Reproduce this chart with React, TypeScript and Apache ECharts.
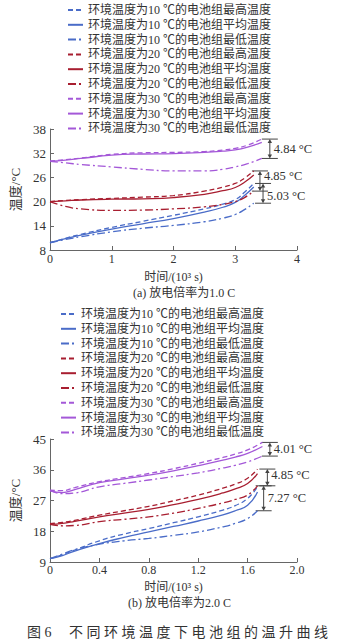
import React, { useEffect, useRef } from 'react';
import * as echarts from 'echarts';

const FONT = '"Liberation Serif", "Noto Sans CJK SC", serif';
const BLUE = '#4a6cc8';
const RED = '#a81e30';
const PURPLE = '#a458d8';

const legendNames = [
  '环境温度为10 ℃的电池组最高温度',
  '环境温度为10 ℃的电池组平均温度',
  '环境温度为10 ℃的电池组最低温度',
  '环境温度为20 ℃的电池组最高温度',
  '环境温度为20 ℃的电池组平均温度',
  '环境温度为20 ℃的电池组最低温度',
  '环境温度为30 ℃的电池组最高温度',
  '环境温度为30 ℃的电池组平均温度',
  '环境温度为30 ℃的电池组最低温度',
];

// (a) 1.0 C
const timeA = [0, 0.25, 0.5, 1, 1.5, 2, 2.5, 2.8, 3.0, 3.15, 3.3];
const timeA30 = [0, 0.25, 0.5, 1, 1.5, 2, 2.5, 2.8, 3.0, 3.2, 3.43];
const a10Max = [9.8, 10.9, 11.9, 13.6, 15.1, 16.6, 18.2, 19.4, 20.5, 22.3, 24.5];
const a10Avg = [9.8, 10.8, 11.7, 13.2, 14.5, 15.8, 17.4, 18.6, 19.8, 21.5, 23.6];
const a10Min = [9.8, 10.6, 11.3, 12.5, 13.4, 14.1, 15.0, 15.9, 16.8, 18.0, 19.6];
const a20Max = [20, 20.3, 20.5, 20.8, 21.1, 21.5, 22.6, 23.6, 24.5, 25.8, 27.6];
const a20Avg = [20, 20.2, 20.4, 20.6, 20.7, 21.0, 21.8, 22.7, 23.5, 24.8, 26.6];
const a20Min = [20, 18.8, 18.2, 17.8, 17.9, 18.2, 18.7, 19.3, 20.0, 21.0, 22.6];
const a30Max = [30, 30.4, 30.8, 31.7, 32.1, 32.2, 32.4, 32.8, 33.2, 34.0, 35.5];
const a30Avg = [30, 30.3, 30.7, 31.5, 31.8, 31.9, 32.2, 32.5, 32.8, 33.5, 34.7];
const a30Min = [30, 29.6, 29.2, 28.6, 28.0, 27.6, 27.6, 28.0, 28.6, 29.4, 30.7];

// (b) 2.0 C
const timeB = [0, 0.1, 0.2, 0.4, 0.6, 0.8, 1.0, 1.2, 1.4, 1.5, 1.6, 1.68];
const timeB30 = [0, 0.1, 0.2, 0.4, 0.6, 0.8, 1.0, 1.2, 1.4, 1.5, 1.6, 1.72];
const b10Max = [10, 11.1, 12.5, 15.2, 17.2, 18.8, 20.5, 22.2, 24.2, 25.5, 27.6, 31.0];
const b10Avg = [10, 10.9, 12.2, 14.4, 16.2, 17.8, 19.4, 21.0, 22.8, 24.0, 25.6, 29.5];
const b10Min = [10, 11.3, 12.6, 14.2, 15.2, 15.9, 16.8, 17.8, 19.3, 20.3, 21.7, 24.0];
const b20Max = [20.2, 20.6, 21.2, 22.7, 24.0, 25.3, 26.9, 28.6, 30.6, 31.8, 33.5, 36.2];
const b20Avg = [20.0, 20.3, 20.9, 22.2, 23.3, 24.4, 25.8, 27.3, 29.2, 30.4, 32.0, 34.9];
const b20Min = [20.0, 19.6, 19.7, 20.8, 21.5, 22.2, 23.3, 24.7, 26.3, 27.3, 28.6, 31.3];
const b30Max = [30.0, 29.9, 30.8, 32.5, 33.7, 34.9, 36.3, 37.9, 39.6, 40.6, 41.8, 44.0];
const b30Avg = [29.8, 29.3, 30.2, 32.2, 33.3, 34.4, 35.7, 37.2, 38.8, 39.7, 40.8, 42.8];
const b30Min = [30.0, 29.0, 29.2, 31.0, 32.0, 33.0, 34.0, 35.1, 36.5, 37.3, 38.3, 40.0];

// brackets: [x, top, bottom]
const bracketA = [
  [3.56, 35.5, 30.7],
  [3.40, 27.6, 22.6],
  [3.45, 24.5, 19.6],
];
const bracketALabels = ['4.84 °C', '4.85 °C', '5.03 °C'];
const bracketB = [
  [1.78, 44.0, 40.0],
  [1.76, 36.2, 31.3],
  [1.73, 31.3, 24.0],
];
const bracketBLabels = ['4.01 °C', '4.85 °C', '7.27 °C'];

// label vertical nudges (pixels) so neighbouring bracket texts do not collide
const labelNudgeA = [0, -5, 3];
const labelNudgeB = [0, -2, 0];

const DASH = [5, 3];
const DASHDOT = [8, 3, 2, 3];

function zip(t: number[], v: number[]) {
  return t.map((x, i) => [x, v[i]]);
}

function lineSeries(name: string, color: string, type: any, t: number[], v: number[], idx: number) {
  return {
    type: 'line',
    name,
    xAxisIndex: idx,
    yAxisIndex: idx,
    data: zip(t, v),
    smooth: true,
    symbol: 'none',
    lineStyle: { color, width: 1.3, type },
    itemStyle: { color },
  };
}

function bracketSeries(data: number[][], labels: string[], nudge: number[], idx: number) {
  return {
    type: 'custom',
    xAxisIndex: idx,
    yAxisIndex: idx,
    clip: false,
    silent: true,
    encode: { x: 0, y: [1, 2] },
    data,
    renderItem: (params: any, api: any) => {
      const x = api.value(0);
      const pT = api.coord([x, api.value(1)]);
      const pB = api.coord([x, api.value(2)]);
      const cx = pT[0];
      const st = { stroke: '#444', lineWidth: 1 };
      const ah = 4;
      const aw = 2.2;
      return {
        type: 'group',
        children: [
          { type: 'line', shape: { x1: cx - 8, y1: pT[1], x2: cx + 8, y2: pT[1] }, style: st },
          { type: 'line', shape: { x1: cx - 8, y1: pB[1], x2: cx + 8, y2: pB[1] }, style: st },
          { type: 'line', shape: { x1: cx, y1: pT[1] + 2, x2: cx, y2: pB[1] - 2 }, style: st },
          { type: 'polygon', shape: { points: [[cx, pT[1]], [cx - aw, pT[1] + ah], [cx + aw, pT[1] + ah]] }, style: { fill: '#444' } },
          { type: 'polygon', shape: { points: [[cx, pB[1]], [cx - aw, pB[1] - ah], [cx + aw, pB[1] - ah]] }, style: { fill: '#444' } },
          {
            type: 'text',
            x: cx + 4,
            y: (pT[1] + pB[1]) / 2 + nudge[params.dataIndex],
            style: {
              text: labels[params.dataIndex],
              fill: '#333',
              font: '12.5px ' + FONT,
              verticalAlign: 'middle',
              align: 'left',
            },
          },
        ],
      };
    },
  };
}

const axisCommon = {
  axisLine: { show: true, lineStyle: { color: '#666', width: 1 } },
  axisTick: { show: true, inside: true, length: 4, lineStyle: { color: '#666' } },
  splitLine: { show: false },
};

function legendCfg(top: number, left: number) {
  return {
    orient: 'vertical',
    top,
    left,
    itemWidth: 15,
    itemHeight: 10,
    itemGap: 2.8,
    padding: 0,
    data: legendNames,
    itemStyle: { opacity: 0 },
    textStyle: { fontSize: 12, fontFamily: FONT, color: '#333', lineHeight: 12 },
    selectedMode: false,
  };
}

export default function App() {
  const ref = useRef<HTMLDivElement>(null);
  useEffect(() => {
    if (!ref.current) return;
    const chart = echarts.init(ref.current, undefined, { renderer: 'svg' });
    const xName = '时间/(10³ s)';
    const xNameStyle = { fontSize: 12, fontFamily: FONT, color: '#333', lineHeight: 12 };
    const yNameStyle = { fontSize: 13, fontFamily: FONT, color: '#333' };
    const option: any = {
      animation: false,
      backgroundColor: '#fff',
      legend: [legendCfg(4, 67), legendCfg(308, 60)],
      grid: [
        { left: 50, top: 129, width: 247, height: 121 },
        { left: 50, top: 439, width: 247, height: 123 },
      ],
      xAxis: [
        {
          ...axisCommon,
          gridIndex: 0,
          type: 'value',
          min: 0,
          max: 4,
          interval: 1,
          name: xName,
          nameLocation: 'middle',
          nameGap: 21,
          nameTextStyle: xNameStyle,
          axisLabel: { fontSize: 12, fontFamily: FONT, color: '#333', margin: 3 },
        },
        {
          ...axisCommon,
          gridIndex: 1,
          type: 'value',
          min: 0,
          max: 2.0,
          interval: 0.4,
          name: xName,
          nameLocation: 'middle',
          nameGap: 19,
          nameTextStyle: xNameStyle,
          axisLabel: {
            fontSize: 12,
            fontFamily: FONT,
            color: '#333',
            margin: 2,
            formatter: (v: number) => (v === 0 ? '0' : v.toFixed(1)),
          },
        },
      ],
      yAxis: [
        {
          ...axisCommon,
          gridIndex: 0,
          type: 'value',
          min: 8,
          max: 38,
          interval: 6,
          name: '温度/°C',
          nameLocation: 'middle',
          nameGap: 21,
          nameTextStyle: yNameStyle,
          axisLabel: { fontSize: 13, fontFamily: FONT, color: '#333', margin: 4 },
        },
        {
          ...axisCommon,
          gridIndex: 1,
          type: 'value',
          min: 9,
          max: 45,
          interval: 9,
          name: '温度/°C',
          nameLocation: 'middle',
          nameGap: 21,
          nameTextStyle: yNameStyle,
          axisLabel: { fontSize: 13, fontFamily: FONT, color: '#333', margin: 4 },
        },
      ],
      series: [
        lineSeries(legendNames[0], BLUE, DASH, timeA, a10Max, 0),
        lineSeries(legendNames[1], BLUE, 'solid', timeA, a10Avg, 0),
        lineSeries(legendNames[2], BLUE, DASHDOT, timeA, a10Min, 0),
        lineSeries(legendNames[3], RED, DASH, timeA, a20Max, 0),
        lineSeries(legendNames[4], RED, 'solid', timeA, a20Avg, 0),
        lineSeries(legendNames[5], RED, DASHDOT, timeA, a20Min, 0),
        lineSeries(legendNames[6], PURPLE, DASH, timeA30, a30Max, 0),
        lineSeries(legendNames[7], PURPLE, 'solid', timeA30, a30Avg, 0),
        lineSeries(legendNames[8], PURPLE, DASHDOT, timeA30, a30Min, 0),
        lineSeries(legendNames[0], BLUE, DASH, timeB, b10Max, 1),
        lineSeries(legendNames[1], BLUE, 'solid', timeB, b10Avg, 1),
        lineSeries(legendNames[2], BLUE, DASHDOT, timeB, b10Min, 1),
        lineSeries(legendNames[3], RED, DASH, timeB, b20Max, 1),
        lineSeries(legendNames[4], RED, 'solid', timeB, b20Avg, 1),
        lineSeries(legendNames[5], RED, DASHDOT, timeB, b20Min, 1),
        lineSeries(legendNames[6], PURPLE, DASH, timeB30, b30Max, 1),
        lineSeries(legendNames[7], PURPLE, 'solid', timeB30, b30Avg, 1),
        lineSeries(legendNames[8], PURPLE, DASHDOT, timeB30, b30Min, 1),
        bracketSeries(bracketA, bracketALabels, labelNudgeA, 0),
        bracketSeries(bracketB, bracketBLabels, labelNudgeB, 1),
      ],
      graphic: [
        {
          type: 'text',
          left: 133,
          top: 287,
          style: { text: '(a) 放电倍率为1.0 C', font: '12px ' + FONT, fill: '#333' },
        },
        {
          type: 'text',
          left: 128,
          top: 597,
          style: { text: '(b) 放电倍率为2.0 C', font: '12px ' + FONT, fill: '#333' },
        },
        {
          type: 'text',
          left: 27,
          top: 625,
          style: {
            text: '图 6     不 同 环 境 温 度 下 电 池 组 的 温 升 曲 线',
            font: '14px ' + FONT,
            fill: '#333',
          },
        },
      ],
    };
    chart.setOption(option);
    return () => chart.dispose();
  }, []);
  return (
    <div
      ref={ref}
      style={{ position: 'absolute', left: 0, top: 0, width: 352, height: 643, background: '#fff' }}
    />
  );
}
